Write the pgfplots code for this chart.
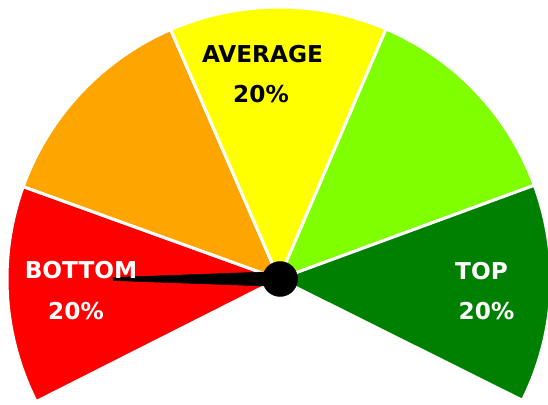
\documentclass[border=0pt]{standalone}
\usepackage{pgfplots}
\pgfplotsset{compat=1.18}
\usepackage{fontspec}
\setmainfont{DejaVu Sans}
\definecolor{gRed}{HTML}{FF0000}
\definecolor{gOrange}{HTML}{FFA500}
\definecolor{gYellow}{HTML}{FFFF00}
\definecolor{gLime}{HTML}{7FFF00}
\definecolor{gGreen}{HTML}{008000}
% gauge: 5 bands of 20% each over a 233.3 degree sweep (from 206.8 deg down to -26.5 deg)
\pgfmathsetmacro{\startang}{206.8}
\pgfmathsetmacro{\sweep}{233.3}
\begin{document}
\begin{tikzpicture}
\begin{axis}[
  scale only axis, width=548bp, height=405bp,
  xmin=-1.02574, xmax=0.98897, ymin=-0.46324, ymax=1.02574,
  hide axis, clip=true,
]
% bands: shares 20,20,20,20,20 (percent of sweep)
\foreach \col/\a/\b in {gRed/0/20, gOrange/20/40, gYellow/40/60, gLime/60/80, gGreen/80/100}{
  \edef\tmp{\noexpand\addplot[fill=\col, draw=white, line width=3bp, line join=round,
     domain={\startang-\sweep*\b/100}:{\startang-\sweep*\a/100}, samples=60, variable=\noexpand\t]
     ({cos(\noexpand\t)},{sin(\noexpand\t)}) -- (axis cs:0,0) -- cycle;}
  \tmp
}
% needle (pointing at 180 deg)
\addplot[fill=black, draw=black, line width=0.5bp] coordinates {
  (0,0.0276) (-0.610,0.0055) (-0.610,-0.0055) (0,-0.0276)} -- cycle;
% hub
\addplot[only marks, mark=*, mark size=17.5bp, mark options={fill=black, draw=black}] coordinates {(0.004,0)};
% labels
\tikzset{lab/.style={inner sep=0pt, anchor=center, font=\fontsize{23.3}{26}\selectfont\bfseries}}
\node[lab, text=black] at (axis cs:-0.0607,0.8254) {AVERAGE};
\node[lab, text=black] at (axis cs:-0.0662,0.6801) {20\%};
\node[lab, text=white] at (axis cs:-0.7279,0.03125) {BOTTOM};
\node[lab, text=white] at (axis cs:-0.7463,-0.1195) {20\%};
\node[lab, text=white] at (axis cs:0.7445,0.0294) {TOP};
\node[lab, text=white] at (axis cs:0.7629,-0.1176) {20\%};
\end{axis}
\pgfresetboundingbox
\path (current axis.south west) rectangle (current axis.north east);
\end{tikzpicture}
\end{document}
